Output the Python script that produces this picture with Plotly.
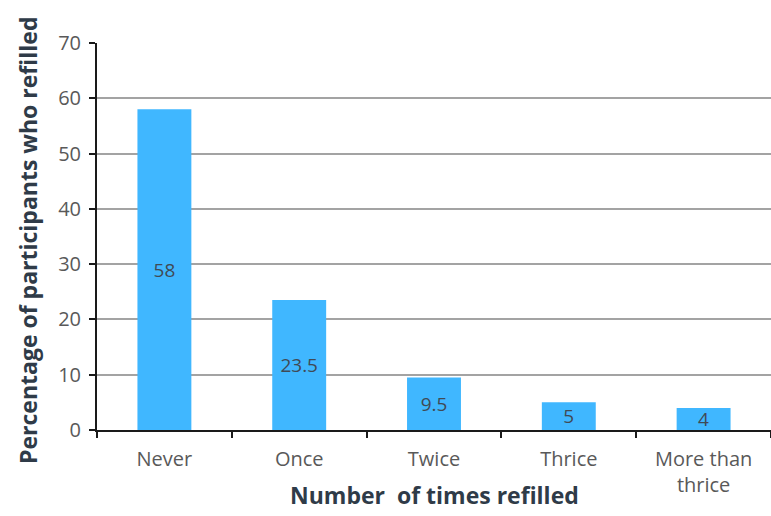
import plotly.graph_objects as go

categories = ["Never", "Once", "Twice", "Thrice", "More than<br>thrice"]
percent_refilled = [58, 23.5, 9.5, 5, 4]
value_labels = ["58", "23.5", "9.5", "5", "4"]
y_ticks = [0, 10, 20, 30, 40, 50, 60, 70]

bar_color = "#40B7FF"
text_color = "#404a55"
title_color = "#2f3b48"
tick_color = "#595959"
font_family = "'Open Sans', sans-serif"

fig = go.Figure(
    go.Bar(
        x=categories,
        y=percent_refilled,
        text=value_labels,
        textposition="inside",
        insidetextanchor="middle",
        textangle=0,
        constraintext="none",
        textfont=dict(size=19, color=text_color, family=font_family),
        marker=dict(color=bar_color, line=dict(width=0)),
        cliponaxis=False,
    )
)

fig.update_layout(
    width=771,
    height=516,
    margin=dict(l=97, r=0, t=43, b=86),
    plot_bgcolor="white",
    paper_bgcolor="white",
    bargap=0.6,
    showlegend=False,
    font=dict(family=font_family, color=tick_color, size=20),
)

fig.update_xaxes(
    showline=True,
    linecolor="#1a1a1a",
    linewidth=2,
    ticks="outside",
    tickson="boundaries",
    ticklen=6,
    tickwidth=2,
    tickcolor="#1a1a1a",
    showgrid=False,
    tickfont=dict(size=20, color=tick_color),
    ticklabelstandoff=10,
)

fig.update_yaxes(
    range=[0, 70],
    tickvals=y_ticks,
    showline=True,
    linecolor="#1a1a1a",
    linewidth=2,
    ticks="outside",
    ticklen=6,
    tickwidth=2,
    tickcolor="#1a1a1a",
    showgrid=True,
    gridcolor="#a3a3a3",
    gridwidth=2,
    zeroline=False,
    tickfont=dict(size=20, color=tick_color),
    ticklabelstandoff=4,
)

# Axis titles placed as annotations so the x title can sit beside the wrapped tick label
fig.add_annotation(
    text="<b>Number  of times refilled</b>",
    xref="paper", yref="paper",
    x=0.5, y=-0.168,
    xanchor="center", yanchor="middle",
    showarrow=False,
    font=dict(size=23, color=title_color, family=font_family),
)
fig.add_annotation(
    text="<b>Percentage of participants who refilled</b>",
    xref="paper", yref="paper",
    x=-0.1024, y=0.491,
    xanchor="center", yanchor="middle",
    textangle=-90,
    showarrow=False,
    font=dict(size=23, color=title_color, family=font_family),
)

fig.write_html("out.html")
